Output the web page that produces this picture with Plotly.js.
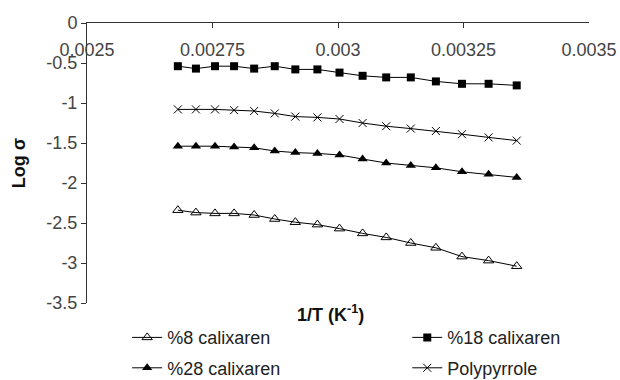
<!DOCTYPE html>
<html>
<head>
<meta charset="utf-8">
<script src="https://cdn.plot.ly/plotly-3.0.1.min.js"></script>
<style>html,body{margin:0;padding:0;background:#fff;}#chart{width:620px;height:380px;}</style>
</head>
<body>
<div id="chart"></div>
<script>
// 1/T values (K^-1)
const invT = [0.002681, 0.002717, 0.002755, 0.002793, 0.002833, 0.002874, 0.002915, 0.002959,
              0.003003, 0.003049, 0.003096, 0.003145, 0.003195, 0.003247, 0.003300, 0.003356];
const cal8  = [-2.34, -2.37, -2.38, -2.38, -2.40, -2.45, -2.49, -2.52, -2.57, -2.63, -2.68, -2.75, -2.81, -2.92, -2.97, -3.04];
const cal18 = [-0.54, -0.57, -0.54, -0.54, -0.57, -0.54, -0.58, -0.58, -0.62, -0.66, -0.68, -0.68, -0.73, -0.76, -0.76, -0.78];
const cal28 = [-1.54, -1.54, -1.54, -1.55, -1.56, -1.60, -1.62, -1.63, -1.65, -1.70, -1.75, -1.78, -1.81, -1.86, -1.89, -1.93];
const ppy   = [-1.08, -1.08, -1.08, -1.09, -1.10, -1.13, -1.17, -1.18, -1.20, -1.25, -1.29, -1.32, -1.35, -1.39, -1.43, -1.47];
const seriesNames = ['%8 calixaren', '%18 calixaren', '%28 calixaren', 'Polypyrrole'];
const xTickVals = [0.0025, 0.00275, 0.003, 0.00325, 0.0035];
const xTickText = ['0.0025', '0.00275', '0.003', '0.00325', '0.0035'];
const yTickVals = [0, -0.5, -1, -1.5, -2, -2.5, -3, -3.5];
const yTickText = ['0', '-0.5', '-1', '-1.5', '-2', '-2.5', '-3', '-3.5'];

const font = 'Liberation Sans, Arial, sans-serif';
const FS = 18;
const lineStyle = {color: '#000', width: 1};

const traces = [
  {x: invT, y: cal8, name: seriesNames[0], mode: 'lines+markers', line: lineStyle, legend: 'legend', legendgroup: 'a',
   marker: {symbol: 'triangle-up-open', size: 9, color: '#000', line: {width: 1, color: '#000'}}},
  {x: invT, y: cal18, name: seriesNames[1], mode: 'lines+markers', line: lineStyle, legend: 'legend2', legendgroup: 'b',
   marker: {symbol: 'square', size: 8, color: '#000'}},
  {x: invT, y: cal28, name: seriesNames[2], mode: 'lines+markers', line: lineStyle, legend: 'legend', legendgroup: 'c',
   marker: {symbol: 'triangle-up', size: 9, color: '#000'}},
  {x: invT, y: ppy, name: seriesNames[3], mode: 'lines+markers', line: lineStyle, legend: 'legend2', legendgroup: 'd',
   marker: {symbol: 'x-thin', size: 8, color: '#000', line: {width: 1, color: '#000'}}}
];

const legendCommon = {
  orientation: 'v', xref: 'paper', yref: 'container', xanchor: 'left', yanchor: 'top',
  y: 0.16, font: {family: font, size: FS, color: '#222'}, tracegroupgap: 4, bgcolor: 'rgba(0,0,0,0)'
};

const layout = {
  width: 620, height: 380,
  margin: {l: 87, r: 31, t: 23, b: 77},
  paper_bgcolor: '#fff', plot_bgcolor: '#fff',
  font: {family: font, size: FS, color: '#222'},
  showlegend: true,
  legend: Object.assign({}, legendCommon, {x: 0.08}),
  legend2: Object.assign({}, legendCommon, {x: 0.638}),
  xaxis: {
    range: [0.0025, 0.0035], side: 'top', showgrid: false, zeroline: false,
    showline: true, linecolor: '#333', linewidth: 1,
    ticks: 'inside', ticklen: 5, tickcolor: '#333',
    ticklabelposition: 'inside', ticklabeloverflow: 'allow', ticklabelstandoff: 16,
    tickvals: xTickVals, ticktext: xTickText,
    tickfont: {family: font, size: FS, color: '#444'}
  },
  yaxis: {
    range: [-3.5, 0], showgrid: false, zeroline: false,
    showline: true, linecolor: '#333', linewidth: 1,
    ticks: 'outside', ticklen: 5, tickcolor: '#333',
    tickvals: yTickVals, ticktext: yTickText,
    tickfont: {family: font, size: FS, color: '#444'},
    title: {text: '<b>Log σ</b>', font: {family: font, size: FS, color: '#111'}, standoff: 16}
  },
  annotations: [{
    text: '<b>1/T (K<sup>-1</sup>)</b>', xref: 'paper', yref: 'paper', x: 0.485, y: -0.036,
    xanchor: 'center', yanchor: 'middle', showarrow: false, font: {family: font, size: FS, color: '#111'}
  }]
};

Plotly.newPlot('chart', traces, layout, {displayModeBar: false, staticPlot: true});
</script>
</body>
</html>
